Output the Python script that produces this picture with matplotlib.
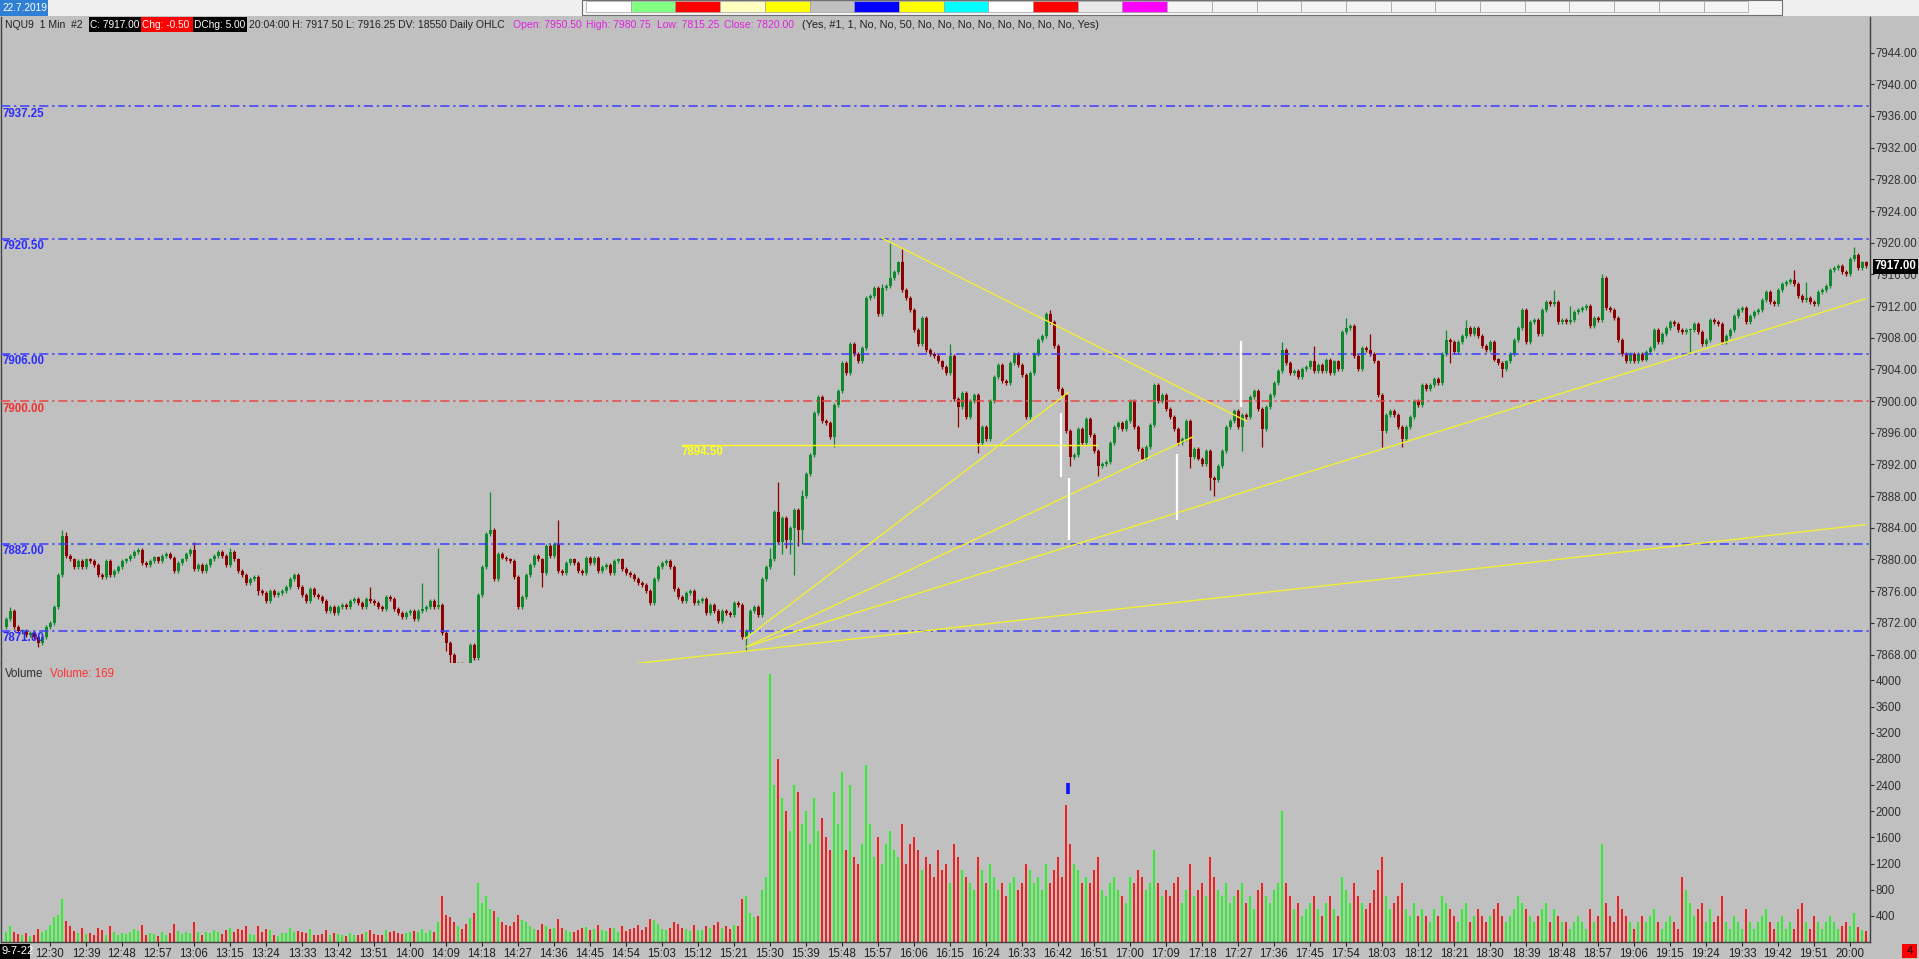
import numpy as np
import matplotlib.pyplot as plt
from matplotlib.patches import Rectangle

plt.rcParams['font.family'] = ['Liberation Sans', 'DejaVu Sans']

# ---- data (1 minute bars, 12:19 .. 20:04) ----
first_open = 7871.50
closes = [
    7872.5, 7873.5, 7871.5, 7871.0, 7871.0, 7870.5, 7870.75, 7870.25, 7869.5, 7870.25,
    7871.5, 7872.0, 7874.0, 7878.0, 7883.0, 7880.5, 7880.0, 7879.0, 7879.75, 7879.0,
    7880.0, 7879.75, 7879.25, 7878.0, 7877.75, 7879.75, 7878.0, 7878.5, 7879.0, 7879.75,
    7880.0, 7880.5, 7881.0, 7881.25, 7879.5, 7879.25, 7879.75, 7880.25, 7879.75, 7880.5,
    7880.75, 7880.25, 7878.5, 7879.5, 7880.0, 7880.75, 7881.25, 7878.75, 7879.25, 7878.5,
    7879.25, 7880.0, 7880.5, 7881.0, 7880.5, 7879.25, 7881.0, 7880.0, 7878.5, 7878.0,
    7877.0, 7877.5, 7877.75, 7876.0, 7875.75, 7874.75, 7876.0, 7875.5, 7875.75, 7876.0,
    7876.5, 7877.5, 7878.0, 7876.5, 7875.5, 7874.75, 7876.25, 7875.5, 7875.25, 7874.75,
    7873.5, 7874.0, 7873.25, 7874.0, 7874.25, 7874.0, 7874.75, 7875.0, 7874.5, 7874.0,
    7875.0, 7874.75, 7874.5, 7874.0, 7873.75, 7875.25, 7875.0, 7873.75, 7873.25, 7872.75,
    7873.25, 7873.5, 7872.5, 7873.5, 7873.75, 7874.0, 7874.75, 7874.0, 7874.25, 7870.75,
    7869.5, 7868.0, 7866.5, 7866.75, 7865.75, 7865.5, 7869.25, 7867.5, 7875.5, 7879.0,
    7883.25, 7883.75, 7877.5, 7880.75, 7880.25, 7880.0, 7879.75, 7877.75, 7874.0, 7875.25,
    7878.0, 7879.25, 7880.5, 7880.0, 7878.25, 7881.75, 7880.5, 7882.0, 7878.5, 7878.25,
    7879.5, 7880.0, 7879.5, 7878.5, 7878.25, 7880.25, 7879.5, 7880.25, 7878.5, 7879.0,
    7879.25, 7878.25, 7879.75, 7880.0, 7878.75, 7878.25, 7878.0, 7877.5, 7877.0, 7876.75,
    7876.0, 7874.5, 7877.5, 7879.0, 7879.5, 7879.75, 7879.0, 7876.25, 7875.25, 7874.75,
    7875.75, 7876.0, 7874.5, 7874.75, 7875.0, 7873.25, 7874.25, 7873.5, 7872.25, 7873.5,
    7873.25, 7873.0, 7874.5, 7874.25, 7870.25, 7871.0, 7873.5, 7874.0, 7873.0, 7877.5,
    7879.0, 7880.0, 7886.0, 7882.25, 7885.25, 7882.5, 7884.0, 7886.25, 7883.75, 7888.0,
    7890.75, 7893.25, 7898.5, 7900.5, 7897.5, 7897.25, 7895.5, 7899.5, 7901.25, 7904.75,
    7903.5, 7907.25, 7906.0, 7905.0, 7906.75, 7913.0, 7913.25, 7914.25, 7911.0, 7914.25,
    7914.5, 7915.5, 7916.25, 7917.5, 7914.0, 7913.0, 7911.5, 7909.0, 7907.25, 7910.5,
    7906.5, 7906.0, 7905.75, 7905.0, 7904.25, 7903.5, 7905.75, 7900.25, 7899.25, 7901.0,
    7898.0, 7900.0, 7900.75, 7894.75, 7896.75, 7895.25, 7900.0, 7903.0, 7904.5, 7902.5,
    7902.25, 7904.75, 7906.0, 7904.5, 7903.25, 7898.0, 7903.5, 7906.0, 7907.75, 7908.25,
    7911.0, 7910.0, 7907.0, 7901.5, 7900.75, 7896.25, 7893.0, 7893.25, 7896.5, 7894.75,
    7897.75, 7895.75, 7893.75, 7891.75, 7892.0, 7892.25, 7894.75, 7896.75, 7897.25, 7896.5,
    7897.5, 7900.0, 7896.75, 7894.0, 7892.75, 7894.25, 7897.0, 7902.0, 7900.0, 7900.75,
    7899.0, 7898.0, 7896.5, 7894.75, 7895.25, 7897.5, 7893.0, 7894.0, 7892.75, 7892.0,
    7893.75, 7890.25, 7890.0, 7891.75, 7893.75, 7896.75, 7897.5, 7898.75, 7896.75, 7898.25,
    7898.0, 7900.5, 7901.25, 7899.0, 7896.5, 7899.25, 7900.75, 7902.25, 7903.75, 7906.5,
    7904.75, 7903.5, 7903.75, 7903.0, 7904.0, 7904.25, 7905.0, 7903.75, 7904.5, 7903.75,
    7905.25, 7903.5, 7905.0, 7904.0, 7908.75, 7909.25, 7909.5, 7905.75, 7904.0, 7906.75,
    7906.5, 7906.0, 7905.0, 7900.75, 7896.25, 7898.25, 7898.75, 7898.25, 7896.75, 7895.25,
    7896.75, 7898.0, 7900.0, 7899.5, 7902.0, 7901.5, 7902.0, 7902.75, 7902.25, 7906.0,
    7907.75, 7907.5, 7906.25, 7907.5, 7908.25, 7909.25, 7908.5, 7909.25, 7908.25, 7907.0,
    7906.5, 7907.5, 7905.25, 7904.75, 7904.0, 7905.0, 7906.0, 7907.75, 7909.25, 7911.5,
    7907.5, 7910.0, 7910.25, 7908.5, 7911.5, 7912.5, 7912.25, 7912.5, 7910.0, 7910.25,
    7910.0, 7910.25, 7911.25, 7911.5, 7911.75, 7912.0, 7909.5, 7910.5, 7910.25, 7915.5,
    7911.75, 7911.5, 7910.5, 7907.75, 7906.0, 7905.0, 7906.0, 7905.0, 7906.0, 7905.25,
    7906.25, 7906.75, 7909.0, 7907.5, 7908.5, 7909.25, 7910.0, 7909.75, 7909.0, 7908.75,
    7909.0, 7909.0, 7909.75, 7908.75, 7907.25, 7907.75, 7910.25, 7910.0, 7909.75, 7907.5,
    7908.25, 7909.0, 7910.75, 7911.5, 7911.75, 7910.0, 7910.75, 7911.25, 7911.5, 7912.75,
    7913.75, 7912.5, 7912.25, 7914.0, 7914.75, 7915.0, 7915.25, 7914.75, 7913.25, 7912.75,
    7913.0, 7912.5, 7912.25, 7913.75, 7914.0, 7914.5, 7916.5, 7916.75, 7917.0, 7916.25,
    7916.0, 7918.0, 7918.5, 7916.75, 7917.5, 7917.0,
]
# wick lengths beyond the body, in 0.25 ticks
wick_hi = [
    1, 2, 1, 1, 1, 1, 1, 1, 1, 1,   1, 1, 1, 1, 3, 2, 1, 1, 1, 1,
    1, 1, 1, 1, 1, 1, 1, 1, 1, 1,   1, 1, 1, 1, 1, 1, 1, 1, 1, 1,
    1, 1, 1, 1, 1, 1, 1, 4, 1, 1,   1, 1, 1, 1, 1, 1, 2, 1, 1, 1,
    1, 1, 1, 1, 1, 1, 1, 1, 1, 1,   1, 1, 1, 1, 1, 1, 1, 1, 1, 1,
    1, 1, 1, 1, 1, 1, 1, 1, 1, 1,   1, 6, 1, 1, 1, 1, 1, 1, 1, 1,
    1, 1, 1, 1, 13, 1, 1, 1, 29, 1, 1, 1, 1, 1, 1, 1, 1, 1, 1, 1,
    1, 19, 1, 1, 1, 1, 1, 1, 1, 1,  1, 1, 1, 1, 1, 1, 1, 1, 12, 1,
    1, 1, 1, 1, 1, 1, 1, 1, 1, 1,   1, 1, 1, 1, 1, 1, 1, 1, 1, 1,
    1, 1, 1, 1, 1, 1, 1, 1, 1, 1,   1, 1, 1, 1, 1, 1, 1, 1, 1, 1,
    1, 1, 1, 1, 1, 1, 1, 1, 1, 1,   1, 6, 1, 15, 1, 1, 1, 1, 1, 3,
    1, 1, 1, 1, 1, 1, 1, 1, 1, 1,   1, 1, 1, 1, 1, 1, 1, 1, 1, 2,
    1, 18, 1, 1, 7, 1, 1, 1, 1, 1,  1, 1, 1, 1, 1, 1, 6, 1, 1, 1,
    1, 1, 1, 1, 1, 1, 1, 1, 1, 1,   1, 1, 1, 1, 1, 1, 1, 1, 1, 1,
    1, 2, 1, 1, 1, 1, 1, 1, 1, 1,   1, 1, 1, 1, 1, 1, 1, 1, 1, 1,
    1, 1, 1, 1, 1, 1, 1, 1, 1, 1,   1, 1, 1, 1, 1, 1, 1, 1, 1, 1,
    1, 1, 1, 1, 1, 1, 1, 1, 1, 1,   1, 1, 1, 1, 1, 1, 1, 1, 1, 4,
    1, 1, 1, 1, 1, 1, 1, 8, 1, 1,   1, 1, 1, 1, 1, 5, 1, 1, 1, 1,
    1, 8, 1, 1, 1, 1, 1, 1, 1, 1,   1, 1, 1, 1, 1, 1, 1, 1, 1, 1,
    5, 1, 1, 1, 1, 4, 1, 1, 1, 1,   1, 1, 1, 1, 1, 1, 1, 1, 1, 1,
    1, 1, 1, 1, 1, 1, 1, 6, 1, 1,   1, 7, 1, 1, 1, 1, 1, 1, 1, 2,
    1, 1, 1, 1, 1, 1, 1, 1, 1, 1,   1, 1, 1, 1, 1, 1, 1, 1, 1, 1,
    1, 1, 1, 1, 1, 1, 1, 1, 1, 1,   1, 1, 1, 1, 1, 1, 1, 1, 1, 1,
    1, 1, 1, 1, 1, 1, 1, 5, 1, 1,   8, 1, 1, 1, 1, 1, 1, 1, 1, 1,
    1, 1, 4, 1, 1, 1,
]
wick_lo = [
    1, 1, 1, 1, 1, 1, 1, 1, 2, 1,   1, 1, 1, 1, 1, 1, 1, 1, 1, 1,
    1, 1, 1, 1, 1, 1, 1, 1, 1, 1,   1, 1, 1, 1, 1, 1, 1, 1, 1, 1,
    1, 1, 1, 1, 1, 1, 1, 1, 1, 1,   1, 1, 1, 1, 1, 1, 1, 1, 1, 1,
    1, 1, 1, 2, 1, 1, 1, 1, 1, 1,   1, 1, 1, 1, 1, 1, 1, 1, 1, 1,
    1, 1, 1, 1, 1, 1, 1, 1, 1, 1,   1, 1, 1, 1, 1, 1, 1, 1, 1, 1,
    1, 1, 1, 1, 1, 1, 1, 1, 1, 1,   4, 6, 6, 1, 1, 1, 1, 1, 1, 1,
    1, 1, 1, 1, 1, 1, 1, 1, 1, 1,   1, 1, 1, 1, 7, 1, 1, 1, 1, 1,
    1, 1, 1, 1, 1, 1, 1, 1, 1, 1,   1, 1, 1, 1, 1, 1, 1, 1, 1, 1,
    1, 1, 1, 1, 1, 1, 1, 1, 1, 1,   1, 1, 1, 1, 1, 1, 1, 1, 1, 1,
    1, 1, 1, 1, 1, 7, 1, 1, 1, 1,   1, 1, 1, 1, 6, 4, 7, 24, 8, 7,
    1, 1, 1, 1, 1, 1, 1, 5, 1, 1,   1, 1, 1, 1, 1, 1, 1, 1, 1, 1,
    1, 1, 1, 1, 1, 1, 1, 1, 1, 1,   1, 1, 1, 1, 1, 1, 1, 1, 10, 1,
    1, 1, 1, 5, 1, 1, 1, 1, 1, 1,   1, 1, 1, 1, 1, 1, 1, 1, 1, 1,
    1, 1, 1, 1, 1, 1, 5, 1, 1, 1,   1, 1, 1, 5, 1, 1, 1, 1, 1, 1,
    1, 1, 1, 1, 1, 1, 1, 1, 1, 1,   1, 1, 1, 1, 1, 1, 6, 1, 1, 1,
    1, 6, 8, 1, 1, 1, 1, 1, 1, 12,  1, 1, 1, 1, 9, 1, 1, 1, 1, 1,
    1, 1, 1, 1, 1, 1, 1, 1, 1, 1,   1, 1, 1, 1, 1, 1, 1, 1, 1, 1,
    1, 1, 1, 1, 8, 1, 1, 1, 1, 4,   1, 1, 1, 1, 1, 1, 1, 1, 1, 1,
    1, 11, 1, 1, 1, 1, 1, 1, 1, 1,  1, 1, 1, 1, 4, 1, 1, 1, 1, 1,
    1, 1, 1, 1, 1, 1, 1, 1, 1, 1,   1, 1, 1, 1, 1, 1, 1, 1, 1, 1,
    1, 1, 1, 1, 1, 1, 1, 1, 1, 1,   1, 1, 1, 1, 1, 1, 1, 1, 1, 1,
    1, 11, 1, 1, 1, 1, 1, 1, 1, 1,  1, 1, 1, 1, 1, 1, 1, 1, 1, 1,
    1, 1, 1, 1, 1, 1, 1, 1, 1, 1,   1, 1, 1, 1, 1, 1, 1, 1, 1, 1,
    1, 1, 1, 1, 1, 1,
]
volumes = [
    150, 250, 150, 120, 100, 130, 90, 110, 200, 160,
    180, 260, 380, 420, 650, 320, 240, 170, 130, 210,
    120, 140, 100, 220, 180, 110, 240, 150, 100, 130,
    120, 150, 200, 170, 260, 110, 140, 120, 90, 160,
    110, 130, 280, 170, 120, 150, 140, 300, 160, 110,
    150, 130, 180, 160, 120, 190, 220, 150, 200, 180,
    250, 120, 110, 240, 150, 200, 180, 110, 90, 130,
    140, 220, 160, 170, 150, 130, 200, 100, 110, 120,
    180, 100, 130, 120, 110, 90, 140, 110, 100, 120,
    150, 180, 120, 110, 100, 180, 150, 170, 140, 120,
    130, 160, 170, 150, 200, 140, 180, 160, 300, 700,
    420, 380, 300, 250, 200, 280, 360, 450, 900, 600,
    700, 500, 480, 380, 300, 260, 240, 300, 420, 330,
    300, 250, 200, 180, 280, 240, 200, 220, 350, 220,
    180, 160, 150, 190, 210, 230, 180, 200, 260, 190,
    170, 210, 220, 160, 240, 170, 200, 220, 260, 190,
    230, 350, 330, 270, 200, 180, 210, 300, 280, 220,
    200, 170, 260, 180, 190, 240, 210, 260, 300, 220,
    250, 200, 260, 240, 650, 700, 450, 380, 400, 800,
    1000, 4100, 2400, 2800, 2200, 2000, 1700, 2400, 2300, 1800,
    2000, 1500, 2200, 1700, 1900, 1600, 1400, 2300, 1800, 2600,
    1400, 2400, 1300, 1200, 1500, 2700, 1800, 1300, 1600, 1200,
    1500, 1700, 1400, 1300, 1800, 1200, 1500, 1600, 1400, 1100,
    1300, 1200, 1000, 1400, 1100, 1200, 900, 1500, 1300, 1100,
    1000, 900, 800, 1300, 1100, 900, 1200, 1000, 800, 900,
    700, 900, 1000, 800, 900, 1200, 1100, 900, 1000, 800,
    1200, 900, 1100, 1300, 1000, 2100, 1500, 1200, 1100, 900,
    1000, 900, 1100, 1300, 800, 700, 900, 1000, 800, 700,
    600, 1000, 900, 1100, 1000, 800, 900, 1400, 900, 700,
    800, 700, 900, 1000, 600, 800, 1200, 700, 800, 900,
    700, 1300, 1000, 800, 700, 900, 600, 700, 800, 900,
    600, 700, 500, 800, 900, 700, 600, 800, 900, 2000,
    900, 700, 500, 600, 400, 500, 600, 700, 500, 400,
    600, 700, 500, 400, 1000, 800, 600, 900, 700, 600,
    500, 600, 800, 1100, 1300, 700, 500, 600, 700, 900,
    500, 400, 600, 400, 500, 400, 300, 500, 400, 700,
    600, 500, 400, 300, 500, 600, 300, 400, 500, 400,
    300, 400, 500, 600, 400, 300, 400, 500, 700, 600,
    500, 400, 300, 400, 500, 600, 300, 500, 400, 300,
    300, 200, 300, 400, 300, 200, 500, 300, 400, 1500,
    600, 400, 300, 700, 500, 400, 300, 200, 300, 400,
    300, 400, 500, 300, 200, 300, 400, 300, 200, 1000,
    800, 600, 400, 500, 600, 300, 500, 300, 400, 700,
    300, 200, 400, 300, 200, 500, 300, 200, 300, 400,
    500, 300, 200, 300, 400, 200, 300, 200, 500, 600,
    300, 200, 400, 300, 200, 300, 400, 300, 200, 250,
    300, 250, 450, 230, 180, 169,
]
time_labels = ["12:30", "12:39", "12:48", "12:57", "13:06", "13:15", "13:24", "13:33",
               "13:42", "13:51", "14:00", "14:09", "14:18", "14:27", "14:36", "14:45",
               "14:54", "15:03", "15:12", "15:21", "15:30", "15:39", "15:48", "15:57",
               "16:06", "16:15", "16:24", "16:33", "16:42", "16:51", "17:00", "17:09",
               "17:18", "17:27", "17:36", "17:45", "17:54", "18:03", "18:12", "18:21",
               "18:30", "18:39", "18:48", "18:57", "19:06", "19:15", "19:24", "19:33",
               "19:42", "19:51", "20:00"]
first_label_bar = 11      # 12:30 is the 12th bar of the session (12:19 start)
label_every = 9

blue_levels = [7937.25, 7920.50, 7906.00, 7882.00, 7871.00]
red_level = 7900.00
ray_price, ray_from, ray_to = 7894.50, 168.9, 272.7
# drawn trend lines: (bar0, price0, bar1, price1)
trend_lines = [
    (218.9, 7920.60, 310.0, 7897.50),
    (184.8, 7870.00, 265.6, 7901.10),
    (185.2, 7869.00, 296.8, 7895.50),
    (185.2, 7869.00, 464.8, 7912.90),
    (156.4, 7866.80, 464.8, 7884.40),
]
# white vertical marks: (bar, top price, bottom price)
white_marks = [(263.75, 7898.5, 7890.4), (265.75, 7890.25, 7882.5),
               (292.8, 7893.3, 7885.0), (308.75, 7907.6, 7899.3)]
vol_mark = (265.5, 2270, 2430)

# ---- derived series ----
closes = np.array(closes)
opens = np.r_[first_open, closes[:-1]]
up = closes >= opens
highs = np.maximum(opens, closes) + np.array(wick_hi) * 0.25
lows = np.minimum(opens, closes) - np.array(wick_lo) * 0.25
bars = np.arange(len(closes))

W, H = 1919, 959
BG = '#c0c0c0'
fig = plt.figure(figsize=(W / 100, H / 100), dpi=100, facecolor=BG)

def fx(px):
    return px / W

def fy(py):
    return 1 - py / H

x_left, x_right = 1, 1870
p_top, p_bot, v_bot = 17, 663, 942
xlim = ((x_left - 6) / 4, (x_right - 6) / 4)

ax = fig.add_axes([fx(x_left), fy(p_bot), fx(x_right - x_left), (p_bot - p_top) / H])
axv = fig.add_axes([fx(x_left), fy(v_bot), fx(x_right - x_left), (v_bot - p_bot) / H])
for a in (ax, axv):
    a.set_facecolor(BG)
    a.set_xlim(*xlim)
    a.spines['top'].set_visible(False)
    for s in ('left', 'right', 'bottom'):
        a.spines[s].set_color('#404040')
        a.spines[s].set_linewidth(1)
    a.yaxis.tick_right()
    a.tick_params(axis='y', direction='out', length=3, pad=1, labelsize=8.3,
                  colors='#303030', width=0.8)
ax.spines['bottom'].set_visible(False)

px_per_pt = 7.92
ax.set_ylim(7944 - (p_bot - 52.6) / px_per_pt, 7944 + (52.6 - p_top) / px_per_pt)
axv.set_ylim(0, (941.5 - p_bot) * 15.32)

# candles
green, red = '#10892e', '#8b0000'
ccol = np.where(up, green, red)
ax.vlines(bars, lows, highs, colors=ccol, lw=0.9, zorder=2)
ax.bar(bars, np.maximum(np.abs(closes - opens), 0.15), bottom=np.minimum(opens, closes),
       width=0.75, color=ccol, linewidth=0, zorder=2)

# level lines
dash = (6, 2.5, 1.5, 2.5)
for lv in blue_levels:
    ax.axhline(lv, color='#3b3bff', lw=1.1, dashes=dash, zorder=3)
    ax.text(xlim[0] + 0.3, lv - 0.95, f'{lv:.2f}', color='#2b2bff', fontsize=8.3,
            weight='bold', va='center', ha='left', zorder=4)
ax.axhline(red_level, color='#e84848', lw=1.1, dashes=dash, zorder=3)
ax.text(xlim[0] + 0.3, red_level - 0.95, f'{red_level:.2f}', color='#f03030', fontsize=8.3,
        weight='bold', va='center', ha='left', zorder=4)

# drawings
ax.plot([ray_from, ray_to], [ray_price, ray_price], color='#ffff20', lw=1, zorder=4)
ax.text(ray_from, ray_price - 0.95, f'{ray_price:.2f}', color='#ffff20', fontsize=8.3,
        weight='bold', va='center', ha='left', zorder=4)
for b0, p0, b1, p1 in trend_lines:
    ax.plot([b0, b1], [p0, p1], color='#f0f030', lw=1, zorder=4)
for b, t, bt in white_marks:
    ax.plot([b, b], [bt, t], color='white', lw=1.6, zorder=4, solid_capstyle='butt')

ax.set_yticks(np.arange(7868, 7945, 4))
ax.set_yticklabels([f'{v:.2f}' for v in np.arange(7868, 7945, 4)])
ax.set_xticks([])

# last price marker
ax.text(1.0025, closes[-1], f'{closes[-1]:.2f}', transform=ax.get_yaxis_transform(),
        color='white', fontsize=8.3, weight='bold', va='center', ha='left', zorder=6,
        bbox=dict(boxstyle='square,pad=0.12', fc='black', ec='none'), clip_on=False)

# volume
vcol = np.where(up, '#2ef02e', '#f02020')
axv.bar(bars, volumes, width=0.5, color=vcol, linewidth=0, zorder=2)
axv.plot([vol_mark[0]] * 2, vol_mark[1:], color='#1010ff', lw=2.6, zorder=3,
         solid_capstyle='butt')
axv.set_yticks(np.arange(400, 4001, 400))
axv.set_yticklabels([str(v) for v in range(400, 4001, 400)])
tick_bars = [first_label_bar + label_every * k for k in range(len(time_labels))]
axv.set_xticks(tick_bars)
axv.set_xticklabels(time_labels)
axv.tick_params(axis='x', direction='out', length=3, pad=1, labelsize=8.3,
                colors='#202020', width=0.8)
axv.text(0.002, 0.96, 'Volume', transform=axv.transAxes, color='#303030', fontsize=8.3,
         va='center', ha='left')
axv.text(0.026, 0.96, f'Volume: {volumes[-1]}', transform=axv.transAxes, color='#ff3030',
         fontsize=8.3, va='center', ha='left')

# ---- window chrome ----
def rect(x0, y0, x1, y1, fc, ec='none', lw=0):
    fig.patches.append(Rectangle((fx(x0), fy(y1)), fx(x1 - x0), (y1 - y0) / H,
                                 transform=fig.transFigure, fc=fc, ec=ec, lw=lw))

hdr = 7.5
rect(0, 0, W, 16, '#f0f0f0')
rect(0, 0, 48, 16, '#2f7fd6')
fig.text(fx(2), fy(8), '22.7.2019', color='white', fontsize=7.3, va='center', ha='left')
rect(582, 0, 1782, 15, '#f4f4f4', ec='#707070', lw=0.8)
swatches = ['#ffffff', '#80ff80', '#ff0000', '#ffffc0', '#ffff00', '#c0c0c0', '#0000ff',
            '#ffff00', '#00ffff', '#ffffff', '#ff0000', '#e8e8e8', '#ff00ff']
for k in range(26):
    c = swatches[k] if k < len(swatches) else '#f4f4f4'
    rect(586 + 44.7 * k, 1, 586 + 44.7 * (k + 1), 12, c, ec='#a0a0a0', lw=0.5)

hy = 24.5
fig.text(fx(5), fy(hy), 'NQU9  1 Min  #2', color='#202020', fontsize=hdr, va='center')
for x0, x1, fc, txt in [(89, 141, 'black', f'C: {closes[-1]:.2f}'),
                        (141, 193, '#ff0000', 'Chg: -0.50'),
                        (193, 247, 'black', 'DChg: 5.00')]:
    rect(x0, 17, x1, 32, fc)
    fig.text(fx(x0 + 1), fy(hy), txt, color='white', fontsize=hdr - 0.2, va='center')
fig.text(fx(249), fy(hy), '20:04:00 H: 7917.50 L: 7916.25 DV: 18550 Daily OHLC',
         color='#202020', fontsize=hdr, va='center')
for x0, txt in [(513, 'Open: 7950.50'), (586, 'High: 7980.75'), (657, 'Low: 7815.25'),
                (724, 'Close: 7820.00')]:
    fig.text(fx(x0), fy(hy), txt, color='#e020e0', fontsize=hdr, va='center')
fig.text(fx(802), fy(hy), '(Yes, #1, 1, No, No, 50, No, No, No, No, No, No, No, No, Yes)',
         color='#202020', fontsize=hdr + 0.3, va='center')

rect(0, 944, 30, 959, 'black')
fig.text(fx(1), fy(951), '9-7-22', color='white', fontsize=8, va='center')
rect(1902, 944, 1917, 958, '#ff0000')
fig.text(fx(1909.5), fy(951), '4', color='black', fontsize=8, va='center', ha='center')

fig.savefig('out.png', dpi=100, facecolor=BG)
